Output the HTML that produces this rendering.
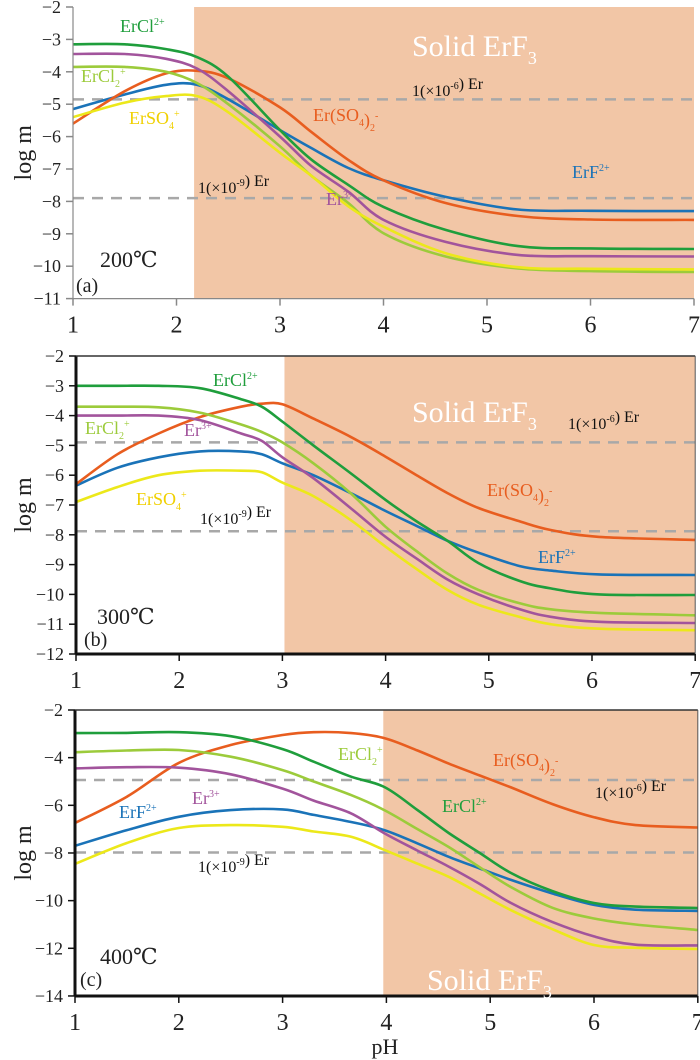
<!DOCTYPE html>
<html><head><meta charset="utf-8"><style>
body{margin:0;background:#fff;}
svg{display:block;}
svg text{font-family:"Liberation Serif","DejaVu Serif","Noto Serif CJK SC",serif;}
</style></head><body>
<svg id="chart" width="700" height="1060" viewBox="0 0 700 1060" xmlns="http://www.w3.org/2000/svg"></svg>
<script>
// ---- data ----
const phA = [1,1.5,1.9,2.2,2.5,3,3.3,3.66,4,4.6,5.3,6,7];
const aGreen  = [-3.15,-3.15,-3.3,-3.55,-4.15,-5.8,-6.7,-7.49,-8.17,-8.88,-9.38,-9.45,-9.47];
const aBlue   = [-5.15,-4.7,-4.4,-4.4,-4.85,-5.8,-6.35,-6.97,-7.35,-7.86,-8.25,-8.29,-8.3];
const aOrange = [-5.6,-4.6,-4.05,-3.97,-4.2,-5.1,-5.85,-6.72,-7.35,-8.05,-8.45,-8.56,-8.57];
const aPurple = [-3.45,-3.45,-3.6,-3.9,-4.6,-6.0,-6.9,-7.7,-8.57,-9.25,-9.65,-9.69,-9.7];
const aLGreen = [-3.85,-3.85,-4.0,-4.35,-5.0,-6.3,-7.2,-8.05,-8.98,-9.7,-10.07,-10.15,-10.18];
const aYellow = [-5.4,-4.95,-4.75,-4.75,-5.25,-6.5,-7.2,-8.15,-8.78,-9.6,-10.03,-10.08,-10.1];

const phB = [1,1.4,1.8,2.2,2.6,2.8,3,3.3,3.66,4,4.3,4.6,4.9,5.3,5.6,6.07,7];
const bGreen  = [-3.0,-3.0,-3.0,-3.08,-3.45,-3.7,-4.2,-5.0,-5.93,-6.83,-7.55,-8.2,-8.95,-9.55,-9.8,-10.0,-10.02];
const bOrange = [-6.3,-5.3,-4.6,-4.05,-3.7,-3.6,-3.62,-4.1,-4.71,-5.38,-6.0,-6.6,-7.1,-7.55,-7.84,-8.07,-8.17];
const bBlue   = [-6.35,-5.75,-5.4,-5.2,-5.2,-5.3,-5.6,-6.0,-6.6,-7.2,-7.7,-8.2,-8.6,-9.05,-9.2,-9.33,-9.35];
const bLGreen = [-3.7,-3.7,-3.72,-3.9,-4.3,-4.55,-4.9,-5.6,-6.6,-7.73,-8.55,-9.3,-9.85,-10.3,-10.5,-10.62,-10.7];
const bPurple = [-4.0,-4.0,-4.0,-4.15,-4.6,-4.85,-5.4,-6.1,-7.1,-8.07,-8.8,-9.5,-10.0,-10.5,-10.75,-10.92,-10.96];
const bYellow = [-6.9,-6.4,-6.0,-5.85,-5.85,-5.9,-6.25,-6.7,-7.5,-8.4,-9.15,-9.85,-10.35,-10.76,-11.0,-11.15,-11.2];

const phC = [1,1.5,2,2.5,3,3.3,3.66,3.98,4.3,4.6,4.9,5.2,5.6,6.0,6.4,7];
const cGreen  = [-2.97,-2.96,-2.93,-3.1,-3.64,-4.17,-4.8,-5.23,-6.2,-7.16,-8.0,-8.84,-9.6,-10.1,-10.25,-10.31];
const cOrange = [-6.74,-5.64,-4.22,-3.47,-3.05,-2.93,-2.97,-3.18,-3.7,-4.25,-4.75,-5.25,-5.95,-6.5,-6.83,-6.93];
const cLGreen = [-3.77,-3.7,-3.68,-3.96,-4.52,-5.0,-5.57,-6.2,-7.0,-7.75,-8.6,-9.43,-10.3,-10.75,-11.0,-11.23];
const cPurple = [-4.45,-4.4,-4.42,-4.7,-5.3,-5.8,-6.34,-7.17,-7.9,-8.57,-9.3,-10.1,-10.9,-11.5,-11.85,-11.88];
const cBlue   = [-7.7,-7.04,-6.48,-6.2,-6.17,-6.4,-6.7,-7.04,-7.6,-8.16,-8.65,-9.13,-9.7,-10.18,-10.38,-10.43];
const cYellow = [-8.46,-7.58,-6.95,-6.83,-6.9,-7.1,-7.32,-7.87,-8.45,-9.0,-9.7,-10.4,-11.2,-11.86,-11.98,-12.03];

const xTicks = [1,2,3,4,5,6,7];
const yTicksA = [-2,-3,-4,-5,-6,-7,-8,-9,-10,-11];
const yTicksB = [-2,-3,-4,-5,-6,-7,-8,-9,-10,-11,-12];
const yTicksC = [-2,-4,-6,-8,-10,-12,-14];

const COL = {green:'#1f9e3c', lgreen:'#9ccb3b', purple:'#a2549c', orange:'#e85d1f', blue:'#1a73b8', yellow:'#ece81a'};
const NS='http://www.w3.org/2000/svg';
const svg=document.getElementById('chart');
function mk(tag, attrs, parent){const e=document.createElementNS(NS,tag);for(const k in attrs)e.setAttribute(k,attrs[k]);(parent||svg).appendChild(e);return e;}

function smooth(P){
  let d='M'+P[0][0].toFixed(1)+','+P[0][1].toFixed(1);
  for(let i=0;i<P.length-1;i++){
    const p0=P[i-1]||P[i], p1=P[i], p2=P[i+1], p3=P[i+2]||P[i+1];
    const c1=[p1[0]+(p2[0]-p0[0])/6, p1[1]+(p2[1]-p0[1])/6];
    const c2=[p2[0]-(p3[0]-p1[0])/6, p2[1]-(p3[1]-p1[1])/6];
    d+=` C${c1[0].toFixed(1)},${c1[1].toFixed(1)} ${c2[0].toFixed(1)},${c2[1].toFixed(1)} ${p2[0].toFixed(1)},${p2[1].toFixed(1)}`;
  }
  return d;
}

function panel(cfg){
  const g=mk('g',{});
  
  
  const X=v=>cfg.x0+(v-1)*cfg.xs;
  const Y=v=>cfg.y0+(-2-v)*cfg.ys;
  const right=X(7), bottom=Y(cfg.ymin);
  const sh=mk('rect',{x:X(cfg.solid),y:cfg.y0,width:right-X(cfg.solid),height:bottom-cfg.y0,fill:'#f2c6a6'},g);
  
  
  [cfg.d1,cfg.d2].forEach(d=>{
    const l=mk('line',{x1:X(1),x2:right,y1:Y(d),y2:Y(d),stroke:'#a8a8a8','stroke-width':2.5,'stroke-dasharray':'11,8'},g);
    
    
  });
  cfg.series.forEach(s=>{
    const P=s.v.map((v,i)=>[X(cfg.ph[i]),Y(v)]);
    const p=mk('path',{d:smooth(P),fill:'none',stroke:COL[s.c],'stroke-width':2.6,'stroke-linejoin':'round'},g);
    
    
  });
  const ac=cfg.thick?'#111':'#888', aw=cfg.thick?3:1.2;
  mk('line',{x1:X(1),x2:X(1),y1:cfg.y0,y2:bottom,stroke:ac,'stroke-width':aw},g);
  mk('line',{x1:X(1),x2:right,y1:bottom,y2:bottom,stroke:ac,'stroke-width':aw},g);
  if(cfg.thick){
    mk('line',{x1:X(1),x2:right,y1:cfg.y0,y2:cfg.y0,stroke:'#333','stroke-width':1.5},g);
    mk('line',{x1:right,x2:right,y1:cfg.y0,y2:bottom,stroke:'#555','stroke-width':1},g);
  }
  cfg.yt.forEach(t=>{
    mk('line',{x1:X(1)-7,x2:X(1),y1:Y(t),y2:Y(t),stroke:ac,'stroke-width':1.5},g);
    const tx=mk('text',{x:X(1)-12,y:Y(t)+6,'text-anchor':'end','font-size':18,fill:'#222'},g);
    tx.textContent='\u2212'+Math.abs(t);
    
    
  });
  xTicks.forEach(t=>{
    mk('line',{x1:X(t),x2:X(t),y1:bottom,y2:bottom+7,stroke:ac,'stroke-width':1.5},g);
    const tx=mk('text',{x:X(t),y:bottom+34,'text-anchor':'middle','font-size':24,fill:'#222'},g);
    tx.textContent=t;
    
    
  });
  const yl=mk('text',{x:0,y:0,transform:`translate(31,${(cfg.y0+bottom)/2}) rotate(-90)`,'text-anchor':'middle','font-size':24,fill:'#222'},g);
  yl.textContent='log m';
  
  
  cfg.labels.forEach(L=>{
    const t=mk('text',{x:L[0],y:L[1],'font-size':L[4]||17,fill:L[3]},g);
    t.innerHTML=L[2];
    
    
  });
}
const sup=(s)=>`<tspan dy="-7" font-size="10">${s}</tspan><tspan dy="7"></tspan>`;
const sub=(s)=>`<tspan dy="5" font-size="10">${s}</tspan><tspan dy="-5"></tspan>`;
const subsup=(a,b)=>`<tspan dy="5" font-size="10">${a}</tspan><tspan dy="-12" font-size="10">${b}</tspan><tspan dy="7"></tspan>`;
const ErCl2p='ErCl'+sup('2+'), ErCl2='ErCl'+subsup('2','+'), ErSO4='ErSO'+subsup('4','+');
const ErSO42='Er(SO'+sub('4')+')'+subsup('2','-'), ErF='ErF'+sup('2+'), Er3='Er'+sup('3+');
const solid='Solid ErF'+`<tspan dy="8" font-size="18">3</tspan>`;
const e6='1(×10'+sup('-6')+')  Er', e9='1(×10'+sup('-9')+') Er';

panel({id:'a',x0:73,xs:103.5,y0:7,ys:32.4,ymin:-11,solid:2.17,d1:-4.85,d2:-7.9,thick:false,yt:yTicksA,ph:phA,
 series:[{n:'erf2',c:'blue',v:aBlue},{n:'er-so4-2',c:'orange',v:aOrange},{n:'ercl2-plus',c:'lgreen',v:aLGreen},{n:'erso4',c:'yellow',v:aYellow},{n:'er3',c:'purple',v:aPurple},{n:'ercl-2plus',c:'green',v:aGreen}],
 labels:[[120,32,ErCl2p,COL.green,18,'label-ercl2plus'],[81,82,ErCl2,COL.lgreen,18,'label-ercl2'],[129,124,ErSO4,'#f0d000',18,'label-erso4'],
  [313,121,ErSO42,COL.orange,18,'label-er-so4-2'],[572,178,ErF,COL.blue,18,'label-erf'],[326,205,Er3,COL.purple,18,'label-er3'],
  [412,56,solid,'#fff',30,'label-solid-erf3'],[412,96,e6,'#111',16,'label-1e-6'],[198,193,e9,'#111',16,'label-1e-9'],
  [100,267,'200℃','#222',22,'label-temperature'],[76,292,'(a)','#222',20,'label-panel-a']]});

panel({id:'b',x0:76,xs:103.2,y0:356,ys:29.8,ymin:-12,solid:3.02,d1:-4.9,d2:-7.88,thick:true,yt:yTicksB,ph:phB,
 series:[{n:'erf2',c:'blue',v:bBlue},{n:'er-so4-2',c:'orange',v:bOrange},{n:'ercl2-plus',c:'lgreen',v:bLGreen},{n:'erso4',c:'yellow',v:bYellow},{n:'er3',c:'purple',v:bPurple},{n:'ercl-2plus',c:'green',v:bGreen}],
 labels:[[213,386,ErCl2p,COL.green,18,'label-ercl2plus'],[85,434,ErCl2,COL.lgreen,18,'label-ercl2'],[184,436,Er3,COL.purple,18,'label-er3'],
  [136,505,ErSO4,'#f0d000',18,'label-erso4'],[200,524,e9,'#111',16,'label-1e-9'],[412,422,solid,'#fff',30,'label-solid-erf3'],
  [568,429,e6,'#111',16,'label-1e-6'],[487,496,ErSO42,COL.orange,18,'label-er-so4-2'],[538,563,ErF,COL.blue,18,'label-erf'],
  [97,624,'300℃','#222',22,'label-temperature'],[84,646,'(b)','#222',20,'label-panel-b']]});

panel({id:'c',x0:75,xs:103.8,y0:710,ys:23.83,ymin:-14,solid:3.97,d1:-4.94,d2:-7.98,thick:true,yt:yTicksC,ph:phC,
 series:[{n:'erf2',c:'blue',v:cBlue},{n:'er-so4-2',c:'orange',v:cOrange},{n:'ercl2-plus',c:'lgreen',v:cLGreen},{n:'erso4',c:'yellow',v:cYellow},{n:'er3',c:'purple',v:cPurple},{n:'ercl-2plus',c:'green',v:cGreen}],
 labels:[[338,760,ErCl2,COL.lgreen,18,'label-ercl2'],[493,766,ErSO42,COL.orange,18,'label-er-so4-2'],[595,798,e6,'#111',16,'label-1e-6'],
  [119,818,ErF,COL.blue,18,'label-erf'],[192,804,Er3,COL.purple,18,'label-er3'],[442,812,ErCl2p,COL.green,18,'label-ercl2plus'],
  [198,872,e9,'#111',16,'label-1e-9'],[100,964,'400℃','#222',22,'label-temperature'],[80,986,'(c)','#222',20,'label-panel-c'],
  [427,990,solid,'#fff',30,'label-solid-erf3']]});

const ph=mk('text',{x:385,y:1054,'text-anchor':'middle','font-size':22,fill:'#222'});
ph.textContent='pH';


</script>
</body></html>
